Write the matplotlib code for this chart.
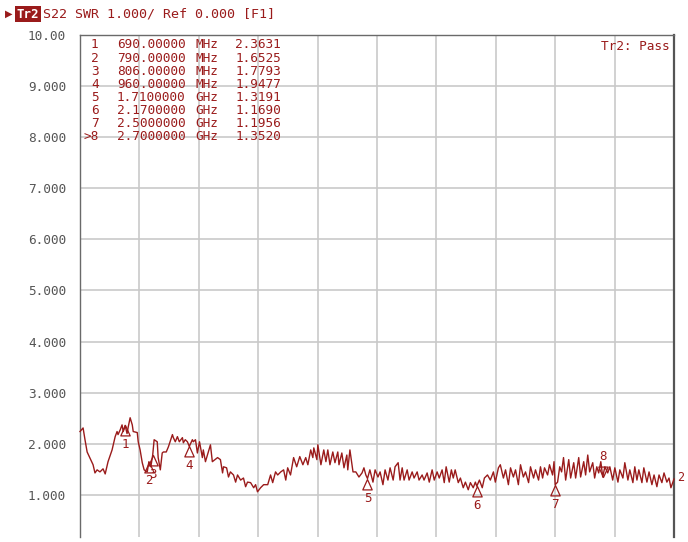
import matplotlib
matplotlib.use("Agg")
import matplotlib.pyplot as plt
from matplotlib.path import Path

# ---------------- data ----------------
freq_mhz = [
    500, 513, 521, 530, 542, 555, 563, 572, 584, 597, 606, 618, 635, 648, 656, 660,
    669, 677, 682, 690, 698, 703, 711, 720, 724, 741, 745, 753, 762, 770, 783, 790,
    798, 806, 812, 825, 829, 838, 846, 851, 863, 872, 889, 893, 901, 910, 918, 931,
    935, 943, 952, 960, 973, 977, 986, 994, 1003, 1015, 1019, 1028, 1049, 1057, 1079, 1091,
    1100, 1104, 1117, 1125, 1133, 1146, 1155, 1163, 1176, 1188, 1197, 1205, 1218, 1231, 1239, 1247,
    1260, 1273, 1290, 1302, 1311, 1323, 1332, 1345, 1357, 1366, 1374, 1386, 1399, 1412, 1425, 1438,
    1450, 1459, 1471, 1480, 1484, 1497, 1501, 1514, 1526, 1535, 1543, 1552, 1564, 1573, 1585, 1590,
    1602, 1611, 1623, 1627, 1636, 1649, 1661, 1674, 1687, 1695, 1703, 1710, 1720, 1733, 1742, 1754,
    1763, 1775, 1784, 1796, 1805, 1818, 1826, 1839, 1847, 1856, 1864, 1877, 1885, 1898, 1906, 1919,
    1927, 1940, 1948, 1961, 1970, 1982, 1991, 2003, 2012, 2024, 2033, 2041, 2054, 2063, 2071, 2079,
    2092, 2101, 2113, 2122, 2134, 2143, 2155, 2164, 2170, 2181, 2193, 2202, 2215, 2227, 2240, 2248,
    2261, 2269, 2282, 2291, 2303, 2312, 2324, 2333, 2345, 2354, 2366, 2375, 2388, 2396, 2409, 2417,
    2430, 2438, 2447, 2455, 2468, 2476, 2489, 2495, 2500, 2510, 2519, 2527, 2535, 2544, 2557, 2565,
    2578, 2586, 2599, 2607, 2620, 2628, 2637, 2645, 2658, 2666, 2675, 2683, 2692, 2700, 2709, 2721,
    2730, 2742, 2751, 2764, 2772, 2785, 2793, 2806, 2814, 2827, 2835, 2844, 2852, 2865, 2873, 2886,
    2895, 2907, 2916, 2928, 2937, 2949, 2958, 2970, 2979, 2987, 3000,
]
swr = [
    2.24, 2.31, 2.08, 1.84, 1.72, 1.59, 1.43, 1.49, 1.45, 1.51, 1.41, 1.65, 1.88, 2.14, 2.24, 2.18,
    2.27, 2.37, 2.24, 2.36, 2.20, 2.33, 2.51, 2.37, 2.24, 2.22, 2.04, 1.88, 1.63, 1.49, 1.45, 1.65,
    1.55, 1.78, 2.08, 2.04, 1.73, 1.49, 1.82, 1.84, 1.84, 1.94, 2.18, 2.12, 2.04, 2.14, 2.04, 2.12,
    2.02, 2.08, 2.04, 1.95, 2.08, 2.04, 2.08, 1.82, 2.04, 1.73, 1.88, 1.65, 1.98, 1.65, 1.73, 1.69,
    1.43, 1.55, 1.53, 1.35, 1.45, 1.39, 1.25, 1.39, 1.29, 1.33, 1.16, 1.25, 1.24, 1.14, 1.20, 1.06,
    1.14, 1.20, 1.20, 1.39, 1.24, 1.45, 1.39, 1.45, 1.49, 1.29, 1.53, 1.39, 1.73, 1.55, 1.75, 1.59,
    1.73, 1.59, 1.88, 1.73, 1.92, 1.69, 1.98, 1.59, 1.88, 1.65, 1.88, 1.59, 1.84, 1.63, 1.84, 1.59,
    1.82, 1.53, 1.78, 1.49, 1.88, 1.45, 1.45, 1.35, 1.43, 1.53, 1.39, 1.32, 1.49, 1.25, 1.49, 1.35,
    1.45, 1.20, 1.49, 1.29, 1.53, 1.29, 1.55, 1.63, 1.29, 1.53, 1.29, 1.49, 1.29, 1.45, 1.33, 1.45,
    1.29, 1.39, 1.29, 1.43, 1.25, 1.49, 1.29, 1.45, 1.33, 1.49, 1.24, 1.55, 1.25, 1.49, 1.33, 1.49,
    1.24, 1.33, 1.14, 1.25, 1.10, 1.24, 1.14, 1.25, 1.17, 1.29, 1.14, 1.33, 1.39, 1.29, 1.45, 1.25,
    1.53, 1.59, 1.33, 1.49, 1.20, 1.53, 1.35, 1.49, 1.20, 1.59, 1.35, 1.45, 1.24, 1.55, 1.33, 1.49,
    1.29, 1.55, 1.33, 1.53, 1.39, 1.59, 1.39, 1.65, 1.20, 1.25, 1.55, 1.45, 1.73, 1.29, 1.69, 1.33,
    1.63, 1.33, 1.73, 1.35, 1.65, 1.39, 1.78, 1.45, 1.63, 1.33, 1.55, 1.43, 1.65, 1.35, 1.55, 1.43,
    1.55, 1.29, 1.53, 1.25, 1.49, 1.33, 1.63, 1.29, 1.49, 1.24, 1.55, 1.29, 1.49, 1.24, 1.53, 1.25,
    1.45, 1.20, 1.39, 1.16, 1.39, 1.24, 1.43, 1.25, 1.33, 1.14, 1.31,
]

marker_ids = ["1", "2", "3", "4", "5", "6", "7", "8"]
marker_freq_mhz = [690, 790, 806, 960, 1710, 2170, 2500, 2700]
marker_freq_text = ["690.00000", "790.00000", "806.00000", "960.00000",
                    "1.7100000", "2.1700000", "2.5000000", "2.7000000"]
marker_units = ["MHz", "MHz", "MHz", "MHz", "GHz", "GHz", "GHz", "GHz"]
marker_swr = [2.3631, 1.6525, 1.7793, 1.9477, 1.3191, 1.1690, 1.1956, 1.3520]
active_marker = "8"

ytick_values = [1, 2, 3, 4, 5, 6, 7, 8, 9, 10]
ytick_labels = ["1.000", "2.000", "3.000", "4.000", "5.000",
                "6.000", "7.000", "8.000", "9.000", "10.00"]
xgrid_values = [750, 1000, 1250, 1500, 1750, 2000, 2250, 2500, 2750]

header_text = "S22 SWR 1.000/ Ref 0.000 [F1]"
trace_name = "Tr2"
limit_text = "Tr2: Pass"

# ---------------- style ----------------
RED = "#9a1b1b"
MONO = "DejaVu Sans Mono"
W, H = 688, 542

fig = plt.figure(figsize=(W / 100, H / 100), dpi=100)
fig.patch.set_facecolor("white")


def fx(px):
    return px / W


def fy(py):
    return 1 - py / H


ax = fig.add_axes([fx(80), fy(537), 594 / W, (537 - 35) / H])
ax.set_xlim(500, 3000)
ax.set_ylim(0.176, 10)

for v in ytick_values[:-1]:
    ax.axhline(v, color="#c9c9c9", lw=1.2, zorder=1)
for v in xgrid_values:
    ax.axvline(v, color="#c9c9c9", lw=1.2, zorder=1)

ax.set_xticks([])
ax.set_yticks(ytick_values)
ax.set_yticklabels(ytick_labels, family=MONO, fontsize=9.2, color="#555555")
ax.tick_params(axis="y", length=0, pad=10)

for s in ["left", "top", "right"]:
    ax.spines[s].set_color("#6a6a6a")
ax.spines["left"].set_linewidth(1.0)
ax.spines["top"].set_linewidth(1.0)
ax.spines["right"].set_linewidth(1.6)
ax.spines["right"].set_color("#555555")
ax.spines["bottom"].set_visible(False)

ax.plot(freq_mhz, swr, color=RED, lw=1.0, zorder=3, clip_on=False)

# markers
tri_down_path = Path([(0, 0), (-0.45, -1), (0.45, -1), (0, 0)],
                     [Path.MOVETO, Path.LINETO, Path.LINETO, Path.CLOSEPOLY])
tri_up_path = Path([(0, 0), (-0.45, 1), (0.45, 1), (0, 0)],
                   [Path.MOVETO, Path.LINETO, Path.LINETO, Path.CLOSEPOLY])
for mid, mf, mv in zip(marker_ids, marker_freq_mhz, marker_swr):
    if mid == active_marker:
        ax.plot([mf], [mv], marker=tri_up_path, ms=15, mfc="none", mec=RED,
                mew=0.9, zorder=4, clip_on=False)
        ax.annotate(mid, (mf, mv), xytext=(0, 14.5), textcoords="offset points",
                    ha="center", va="center", family=MONO, fontsize=9, color=RED)
    else:
        ax.plot([mf], [mv], marker=tri_down_path, ms=15, mfc="none", mec=RED,
                mew=0.9, zorder=4, clip_on=False)
        ax.annotate(mid, (mf, mv), xytext=(0, -14), textcoords="offset points",
                    ha="center", va="center", family=MONO, fontsize=9, color=RED)

# trace end label
ax.annotate("2", (freq_mhz[-1], swr[-1]), xytext=(2, 1), textcoords="offset points",
            ha="left", va="center", family=MONO, fontsize=8.5, color=RED)

# marker table
row_y0, row_dy = 45, 13.1
for i, (mid, ft, un, mv) in enumerate(zip(marker_ids, marker_freq_text, marker_units, marker_swr)):
    y = fy(row_y0 + i * row_dy)
    lab = (">" + mid) if mid == active_marker else mid
    fig.text(fx(98.5), y, lab, ha="right", va="center", family=MONO, fontsize=9.2, color=RED)
    fig.text(fx(117), y, ft, ha="left", va="center", family=MONO, fontsize=9.2, color=RED)
    fig.text(fx(195), y, un, ha="left", va="center", family=MONO, fontsize=9.2, color=RED)
    fig.text(fx(281), y, f"{mv:.4f}", ha="right", va="center", family=MONO, fontsize=9.2, color=RED)

fig.text(fx(670), fy(46), limit_text, ha="right", va="center", family=MONO,
         fontsize=9.2, color=RED)

# header
fig.text(fx(5), fy(14), "\u25B6", ha="left", va="center", family="DejaVu Sans",
         fontsize=7, color=RED)
fig.text(fx(16.5), fy(14), trace_name, ha="left", va="center", family=MONO,
         fontsize=9, color="white", fontweight="bold",
         bbox=dict(boxstyle="square,pad=0.12", fc=RED, ec="none"))
fig.text(fx(43), fy(14), header_text, ha="left", va="center", family=MONO,
         fontsize=9.6, color=RED)

fig.savefig("out.png", dpi=100)
